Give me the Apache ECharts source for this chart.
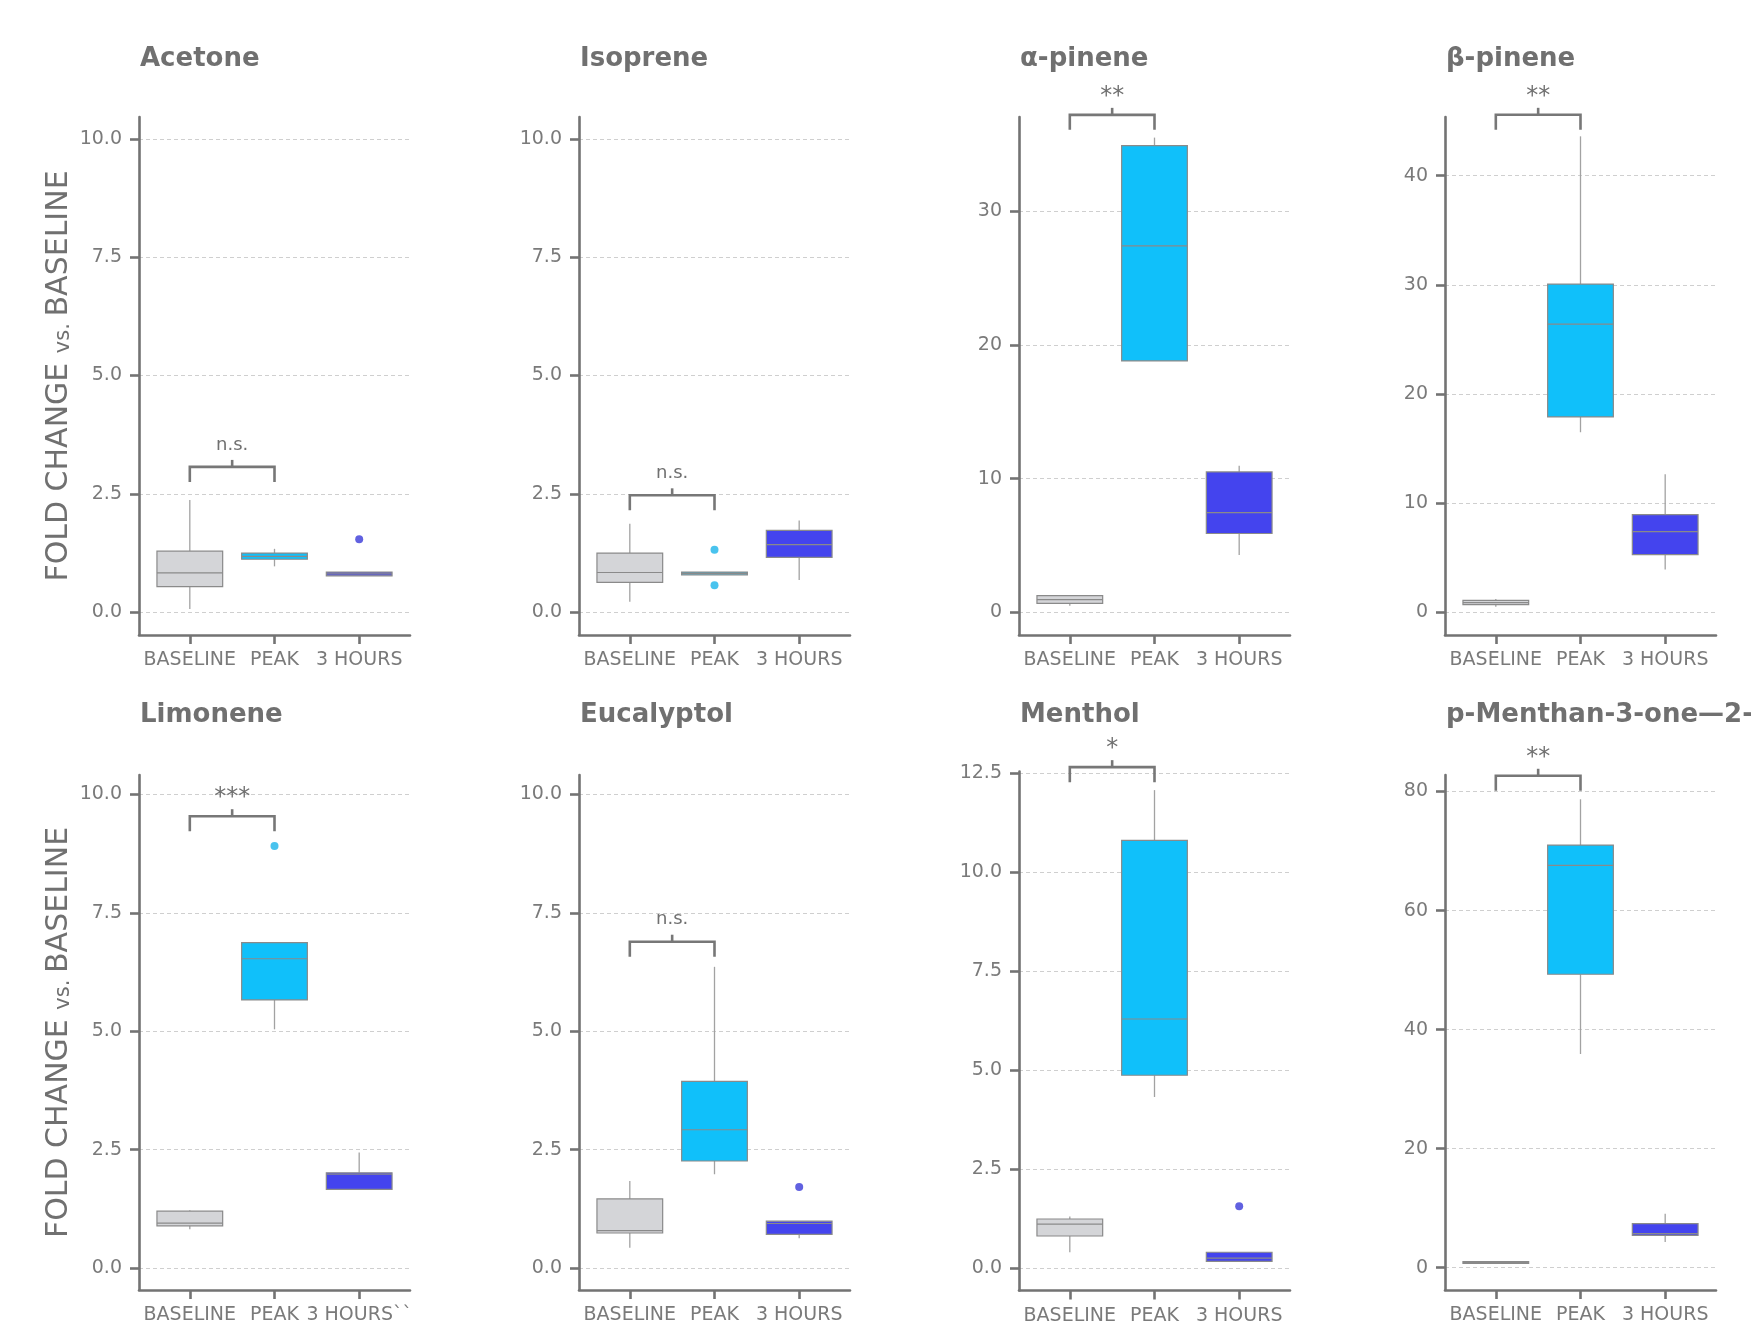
<!DOCTYPE html>
<html>
<head>
<meta charset="utf-8">
<title>Fold change vs. baseline</title>
<script src="https://cdn.jsdelivr.net/npm/echarts@6/dist/echarts.min.js"></script>
<style>
    html, body { margin: 0; padding: 0; background: #fff; }
    #chart { width: 1751px; height: 1332px; }
</style>
</head>
<body>
<div id="chart"></div>
<script>
    const categories = ['BASELINE', 'PEAK', '3 HOURS'];
    const limoneneCategories = ['BASELINE', 'PEAK', '3 HOURS``'];
    const titles = ['Acetone', 'Isoprene', 'α-pinene', 'β-pinene',
        'Limonene', 'Eucalyptol', 'Menthol', 'p-Menthan-3-one—2-'];

    // box stats per category: [min, Q1, median, Q3, max]
    const acetone = [[0.07, 0.54, 0.83, 1.29, 2.37], [0.97, 1.12, 1.18, 1.25, 1.34], [0.77, 0.77, 0.81, 0.85, 0.85]];
    const isoprene = [[0.22, 0.63, 0.84, 1.25, 1.87], [0.79, 0.79, 0.82, 0.85, 0.85], [0.68, 1.16, 1.43, 1.73, 1.94]];
    const alphaPinene = [[0.5, 0.68, 0.95, 1.25, 1.3], [18.8, 18.8, 27.4, 34.9, 35.5], [4.3, 5.9, 7.46, 10.5, 10.96]];
    const betaPinene = [[0.51, 0.72, 0.9, 1.11, 1.23], [16.5, 17.9, 26.4, 30.07, 43.6], [3.94, 5.29, 7.4, 8.95, 12.65]];
    const limonene = [[0.82, 0.89, 0.95, 1.2, 1.22], [5.04, 5.66, 6.53, 6.87, 6.87], [1.66, 1.66, 1.98, 2.01, 2.44]];
    const eucalyptol = [[0.43, 0.74, 0.79, 1.46, 1.84], [1.98, 2.26, 2.92, 3.94, 6.36], [0.63, 0.71, 0.94, 0.99, 0.99]];
    const menthol = [[0.4, 0.81, 1.11, 1.24, 1.3], [4.32, 4.87, 6.29, 10.8, 12.07], [0.17, 0.17, 0.25, 0.4, 0.4]];
    const pulegone = [[0.6, 0.7, 0.85, 1.0, 1.05], [35.9, 49.3, 67.6, 71.0, 78.7], [4.3, 5.43, 5.71, 7.39, 9.07]];

    // outliers: [category index, value]
    const acetoneOutliers = [[2, 1.54]];
    const isopreneOutliers = [[1, 1.32], [1, 0.57]];
    const limoneneOutliers = [[1, 8.91]];
    const eucalyptolOutliers = [[2, 1.71]];
    const mentholOutliers = [[2, 1.56]];

    // BASELINE vs PEAK significance bracket
    const sigLabels = ['n.s.', 'n.s.', '**', '**', '***', 'n.s.', '*', '**'];
    const sigLevels = [3.07, 2.47, 37.2, 45.57, 9.54, 6.89, 12.65, 82.65];

    // y tick labels
    const ticksTen = [0, 2.5, 5, 7.5, 10];
    const ticksAlpha = [0, 10, 20, 30];
    const ticksBeta = [0, 10, 20, 30, 40];
    const ticksMenthol = [0, 2.5, 5, 7.5, 10, 12.5];
    const ticksPulegone = [0, 20, 40, 60, 80];

    const panels = [
        {box: acetone, out: acetoneOutliers, ticks: ticksTen, dec: 1, min: -0.48, max: 10.46},
        {box: isoprene, out: isopreneOutliers, ticks: ticksTen, dec: 1, min: -0.48, max: 10.46},
        {box: alphaPinene, out: [], ticks: ticksAlpha, dec: 0, min: -1.69, max: 37.04},
        {box: betaPinene, out: [], ticks: ticksBeta, dec: 0, min: -2.07, max: 45.37},
        {box: limonene, out: limoneneOutliers, ticks: ticksTen, dec: 1, min: -0.464, max: 10.41, cats: limoneneCategories},
        {box: eucalyptol, out: eucalyptolOutliers, ticks: ticksTen, dec: 1, min: -0.464, max: 10.41},
        {box: menthol, out: mentholOutliers, ticks: ticksMenthol, dec: 1, min: -0.566, max: 12.54},
        {box: pulegone, out: [], ticks: ticksPulegone, dec: 0, min: -3.76, max: 82.78}
    ];

    const FONT = 'DejaVu Sans';
    const AXIS = '#737373';
    const LABEL = '#7a7a7a';
    const boxColors = ['#d4d5d8', '#10c0fa', '#4444ee'];
    const outlierColors = ['#a0a0a0', '#1cb4ea', '#3a3ad8'];
    const BOX_W = 0.776;

    const lefts = [139, 579, 1019, 1445];
    const gridW = 271;

    function gridFor(i) {
        const col = i % 4;
        if (i < 4) return {left: lefts[col], top: 117, width: gridW, height: 518};
        if (i === 6) return {left: lefts[col], top: 771.5, width: gridW, height: 519};
        return {left: lefts[col], top: 775, width: gridW, height: 515};
    }

    function renderBox(params, api) {
        const x = api.value(0);
        const lo = api.coord([x, api.value(1)]);
        const q1 = api.coord([x, api.value(2)]);
        const med = api.coord([x, api.value(3)]);
        const q3 = api.coord([x, api.value(4)]);
        const hi = api.coord([x, api.value(5)]);
        const half = api.size([BOX_W, 0])[0] / 2;
        const whisker = {stroke: '#a2a2a2', lineWidth: 1.3};
        return {
            type: 'group',
            children: [
                {type: 'line', shape: {x1: lo[0], y1: lo[1], x2: q1[0], y2: q1[1]}, style: whisker},
                {type: 'line', shape: {x1: q3[0], y1: q3[1], x2: hi[0], y2: hi[1]}, style: whisker},
                {
                    type: 'rect',
                    shape: {x: q3[0] - half, y: q3[1], width: half * 2, height: q1[1] - q3[1]},
                    style: {fill: boxColors[x], stroke: '#8a8a8a', lineWidth: 1.2}
                },
                {
                    type: 'line',
                    shape: {x1: med[0] - half, y1: med[1], x2: med[0] + half, y2: med[1]},
                    style: {stroke: '#8a8a8a', lineWidth: 1.2}
                }
            ]
        };
    }

    function bracketRenderer(label) {
        const stars = label.indexOf('*') >= 0;
        return function (params, api) {
            const a = api.coord([api.value(0), api.value(2)]);
            const b = api.coord([api.value(1), api.value(2)]);
            const mid = (a[0] + b[0]) / 2;
            const line = {stroke: '#777', lineWidth: 2.6, fill: null};
            return {
                type: 'group',
                children: [
                    {
                        type: 'polyline',
                        shape: {points: [[a[0], a[1] + 15], [a[0], a[1]], [b[0], b[1]], [b[0], b[1] + 15]]},
                        style: line
                    },
                    {type: 'line', shape: {x1: mid, y1: a[1], x2: mid, y2: a[1] - 7}, style: line},
                    {
                        type: 'text',
                        x: mid,
                        y: stars ? a[1] - 6 : a[1] - 13,
                        style: {
                            text: label,
                            fill: '#707070',
                            fontFamily: FONT,
                            fontSize: stars ? 24 : 18,
                            align: 'center',
                            verticalAlign: 'bottom'
                        }
                    }
                ]
            };
        };
    }

    const yName = {
        name: '{a|FOLD CHANGE }{b|vs. }{a|BASELINE}',
        nameLocation: 'middle',
        nameRotate: 90,
        nameGap: 65,
        nameTextStyle: {
            rich: {
                a: {fontFamily: FONT, fontSize: 30, color: '#707070', verticalAlign: 'bottom'},
                b: {fontFamily: FONT, fontSize: 21, color: '#707070', verticalAlign: 'bottom'}
            }
        }
    };

    const option = {
        animation: false,
        backgroundColor: '#ffffff',
        title: [],
        grid: [],
        xAxis: [],
        yAxis: [],
        series: []
    };

    panels.forEach(function (p, i) {
        const g = gridFor(i);
        const cats = p.cats || categories;
        option.grid.push(Object.assign({outerBoundsMode: 'none', containLabel: false}, g));

        option.title.push({
            text: titles[i],
            left: g.left + 1,
            top: i < 4 ? 46 : 702,
            padding: 0,
            textStyle: {fontFamily: FONT, fontSize: 26, fontWeight: 'bold', color: '#707070'}
        });

        option.xAxis.push({
            gridIndex: i,
            type: 'value',
            min: -0.6,
            max: 2.6,
            axisLine: {show: true, onZero: false, lineStyle: {color: AXIS, width: 2.6}},
            axisTick: {show: true, customValues: [0, 1, 2], length: 9, lineStyle: {color: AXIS, width: 2.6}},
            axisLabel: {
                customValues: [0, 1, 2],
                margin: 16,
                color: LABEL,
                fontFamily: FONT,
                fontSize: 19,
                formatter: function (v) { return cats[Math.round(v)]; }
            },
            splitLine: {show: false}
        });

        const y = {
            gridIndex: i,
            type: 'value',
            min: p.min,
            max: p.max,
            axisLine: {show: true, onZero: false, lineStyle: {color: AXIS, width: 2.6}},
            axisTick: {show: true, customValues: p.ticks, length: 9, lineStyle: {color: AXIS, width: 2.6}},
            axisLabel: {
                customValues: p.ticks,
                margin: 17,
                color: LABEL,
                fontFamily: FONT,
                fontSize: 19,
                formatter: function (v) { return Number(v).toFixed(p.dec); }
            },
            splitLine: {show: true, lineStyle: {color: '#cfcfcf', width: 1.2, type: [4, 3]}}
        };
        if (i === 0 || i === 4) Object.assign(y, yName);
        option.yAxis.push(y);

        option.series.push({
            type: 'custom',
            name: titles[i],
            xAxisIndex: i,
            yAxisIndex: i,
            renderItem: renderBox,
            encode: {x: 0, y: [1, 2, 3, 4, 5]},
            data: p.box.map(function (b, k) { return [k].concat(b); }),
            silent: true
        });

        option.series.push({
            type: 'custom',
            xAxisIndex: i,
            yAxisIndex: i,
            renderItem: bracketRenderer(sigLabels[i]),
            encode: {x: [0, 1], y: 2},
            data: [[0, 1, sigLevels[i]]],
            clip: false,
            silent: true,
            z: 3
        });

        if (p.out.length) {
            option.series.push({
                type: 'scatter',
                xAxisIndex: i,
                yAxisIndex: i,
                symbol: 'circle',
                symbolSize: 8,
                data: p.out,
                itemStyle: {
                    color: function (params) { return outlierColors[params.value[0]]; }
                },
                silent: true,
                z: 4
            });
        }
    });

    const myChart = echarts.init(document.getElementById('chart'));
    myChart.setOption(option);
</script>
</body>
</html>
